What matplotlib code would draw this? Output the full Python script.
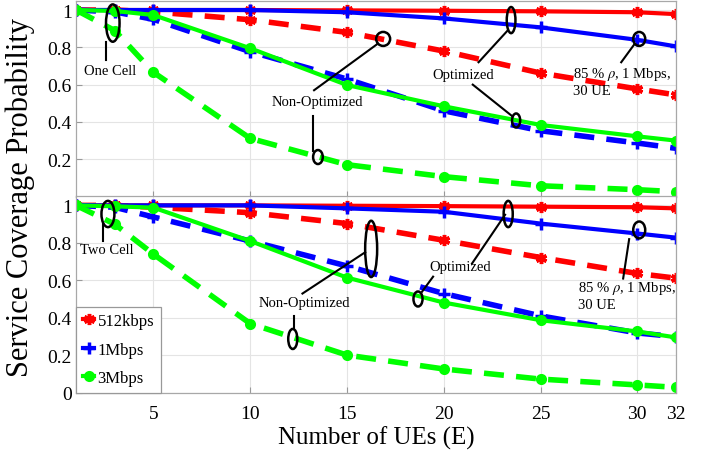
import numpy as np
import matplotlib
matplotlib.use('Agg')
import matplotlib.pyplot as plt
from matplotlib.patches import Ellipse

plt.rcParams['font.family'] = ['Liberation Serif', 'DejaVu Serif']
plt.rcParams['mathtext.fontset'] = 'stix'

# ── Dados ───────────────────────────────────────────────────────────────────
UES = [1, 3, 5, 10, 15, 20, 25, 30, 32]
X_TICKS = [5, 10, 15, 20, 25, 30, 32]
Y_TICKS = [0, 0.2, 0.4, 0.6, 0.8, 1]
Y_TICKLABELS = ['0', '0.2', '0.4', '0.6', '0.8', '1']

# Uma célula (painel superior)
red_opt_1   = [1, 1, 1, 1, 0.998, 0.996, 0.993, 0.988, 0.978]
red_non_1   = [1, 1, 0.99, 0.948, 0.88, 0.78, 0.662, 0.577, 0.545]
blue_opt_1  = [1, 1, 1, 1, 0.988, 0.955, 0.907, 0.84, 0.805]
blue_non_1  = [1, 0.99, 0.95, 0.777, 0.63, 0.46, 0.353, 0.287, 0.259]
green_opt_1 = [1, 0.995, 0.973, 0.795, 0.598, 0.484, 0.384, 0.323, 0.30]
green_non_1 = [1, 0.89, 0.666, 0.312, 0.171, 0.107, 0.058, 0.037, 0.026]

# Duas células (painel inferior)
red_opt_2   = [1, 1, 1, 1, 0.998, 0.996, 0.993, 0.99, 0.984]
red_non_2   = [1, 1, 0.99, 0.961, 0.903, 0.814, 0.722, 0.637, 0.612]
blue_opt_2  = [1, 1, 1, 1, 0.984, 0.966, 0.903, 0.85, 0.828]
blue_non_2  = [1, 0.99, 0.938, 0.81, 0.677, 0.53, 0.411, 0.32, 0.30]
green_opt_2 = [1, 0.995, 0.988, 0.81, 0.615, 0.482, 0.388, 0.328, 0.296]
green_non_2 = [1, 0.90, 0.74, 0.37, 0.202, 0.128, 0.074, 0.043, 0.03]

LABELS = ['512kbps', '1Mbps', '3Mbps']
COLORS = ['#ff0000', '#0000ff', '#00ff00']
MARKERS = [(6, 2, 0), '+', 'o']
MSIZE = [8, 8, 5.5]

DASH = (0, (3.6, 2.2))


def draw_panel(ax, opt, non):
    handles = []
    for o, n, c, m, ms, lab in zip(opt, non, COLORS, MARKERS, MSIZE, LABELS):
        h, = ax.plot(UES, o, '-', color=c, lw=3.0, marker=m, ms=ms,
                     mew=2.5, mfc=c, mec=c, label=lab)
        ax.plot(UES, n, color=c, lw=4.0, ls=DASH, marker=m, ms=ms,
                mew=2.5, mfc=c, mec=c)
        handles.append(h)
    ax.set_xlim(1, 32)
    ax.set_ylim(0, 1.05)
    ax.set_xticks(X_TICKS)
    ax.set_yticks(Y_TICKS)
    ax.set_yticklabels(Y_TICKLABELS)
    ax.grid(True, color='#e4e4e4', lw=0.8)
    ax.set_axisbelow(True)
    ax.tick_params(direction='in', labelsize=14, length=4, color='#999999')
    ax.tick_params(axis='y', pad=3)
    ax.tick_params(axis='x', pad=9)
    for sp in ax.spines.values():
        sp.set_color('#a8a8a8')
        sp.set_linewidth(0.9)
    return handles


def ell(ax, x, y, w, h):
    ax.add_patch(Ellipse((x, y), w, h, fill=False, ec='k', lw=1.8, zorder=6))


def seg(ax, x, y):
    ax.plot(x, y, 'k-', lw=1.5, zorder=6)


fig = plt.figure(figsize=(7.13, 4.56), dpi=100)
ax1 = fig.add_axes([0.1066, 0.5667, 0.8415, 0.4296])
ax2 = fig.add_axes([0.1066, 0.136, 0.8415, 0.432])

draw_panel(ax1, [red_opt_1, blue_opt_1, green_opt_1],
           [red_non_1, blue_non_1, green_non_1])
handles = draw_panel(ax2, [red_opt_2, blue_opt_2, green_opt_2],
                     [red_non_2, blue_non_2, green_non_2])
ax1.tick_params(axis='x', labelbottom=False)
ax1.set_yticks(Y_TICKS[1:])
ax1.set_yticklabels(Y_TICKLABELS[1:])

# ── Anotações — painel superior ─────────────────────────────────────────────
FS = 10.5
ax1.text(2.75, 0.675, 'One Cell', fontsize=FS, ha='center', va='center')
ell(ax1, 2.9, 0.93, 0.7, 0.2)
seg(ax1, [2.55, 2.55], [0.83, 0.73])

ax1.text(13.45, 0.51, 'Non-Optimized', fontsize=FS, ha='center', va='center')
seg(ax1, [13.3, 16.6], [0.57, 0.82])
ell(ax1, 16.87, 0.845, 0.72, 0.075)
seg(ax1, [13.25, 13.25], [0.43, 0.245])
ell(ax1, 13.5, 0.212, 0.5, 0.075)

ax1.text(21.0, 0.657, 'Optimized', fontsize=FS, ha='center', va='center')
seg(ax1, [21.8, 23.3], [0.72, 0.89])
ell(ax1, 23.48, 0.946, 0.45, 0.14)
seg(ax1, [21.5, 23.55], [0.60, 0.43])
ell(ax1, 23.74, 0.408, 0.42, 0.075)

ax1.text(26.7, 0.62, '85 % $\\rho$, 1 Mbps,\n30 UE', fontsize=FS,
         ha='left', va='center', linespacing=1.2)
seg(ax1, [29.17, 29.84], [0.72, 0.815])
ell(ax1, 30.1, 0.845, 0.62, 0.075)

# ── Anotações — painel inferior ─────────────────────────────────────────────
ax2.text(2.6, 0.765, 'Two Cell', fontsize=FS, ha='center', va='center')
ell(ax2, 2.65, 0.954, 0.67, 0.14)
seg(ax2, [2.4, 2.4], [0.90, 0.81])

ax2.text(12.78, 0.48, 'Non-Optimized', fontsize=FS, ha='center', va='center')
seg(ax2, [12.7, 15.94], [0.53, 0.75])
ell(ax2, 16.25, 0.768, 0.62, 0.30)
seg(ax2, [12.27, 12.27], [0.41, 0.34])
ell(ax2, 12.2, 0.288, 0.47, 0.107)

ax2.text(20.85, 0.672, 'Optimized', fontsize=FS, ha='center', va='center')
seg(ax2, [21.46, 23.17], [0.69, 0.95])
ell(ax2, 23.33, 0.954, 0.47, 0.14)
seg(ax2, [19.45, 18.88], [0.62, 0.54])
ell(ax2, 18.67, 0.501, 0.47, 0.08)

ax2.text(26.94, 0.52, '85 % $\\rho$, 1 Mbps,\n30 UE', fontsize=FS,
         ha='left', va='center', linespacing=1.2)
seg(ax2, [29.27, 29.58], [0.61, 0.82])
ell(ax2, 30.1, 0.869, 0.62, 0.09)

leg = ax2.legend(handles=handles, loc='lower left', fontsize=12,
                 handlelength=0.7, handletextpad=0.2, labelspacing=0.75,
                 borderpad=0.4, borderaxespad=0.0, fancybox=False,
                 framealpha=1.0, edgecolor='#999999')
leg.get_frame().set_linewidth(0.9)

ax2.set_xlabel('Number of UEs (E)', fontsize=18, labelpad=2)
fig.text(0.028, 0.566, 'Service Coverage Probability', fontsize=22,
         rotation=90, ha='center', va='center')

fig.savefig('out.png', dpi=100)
